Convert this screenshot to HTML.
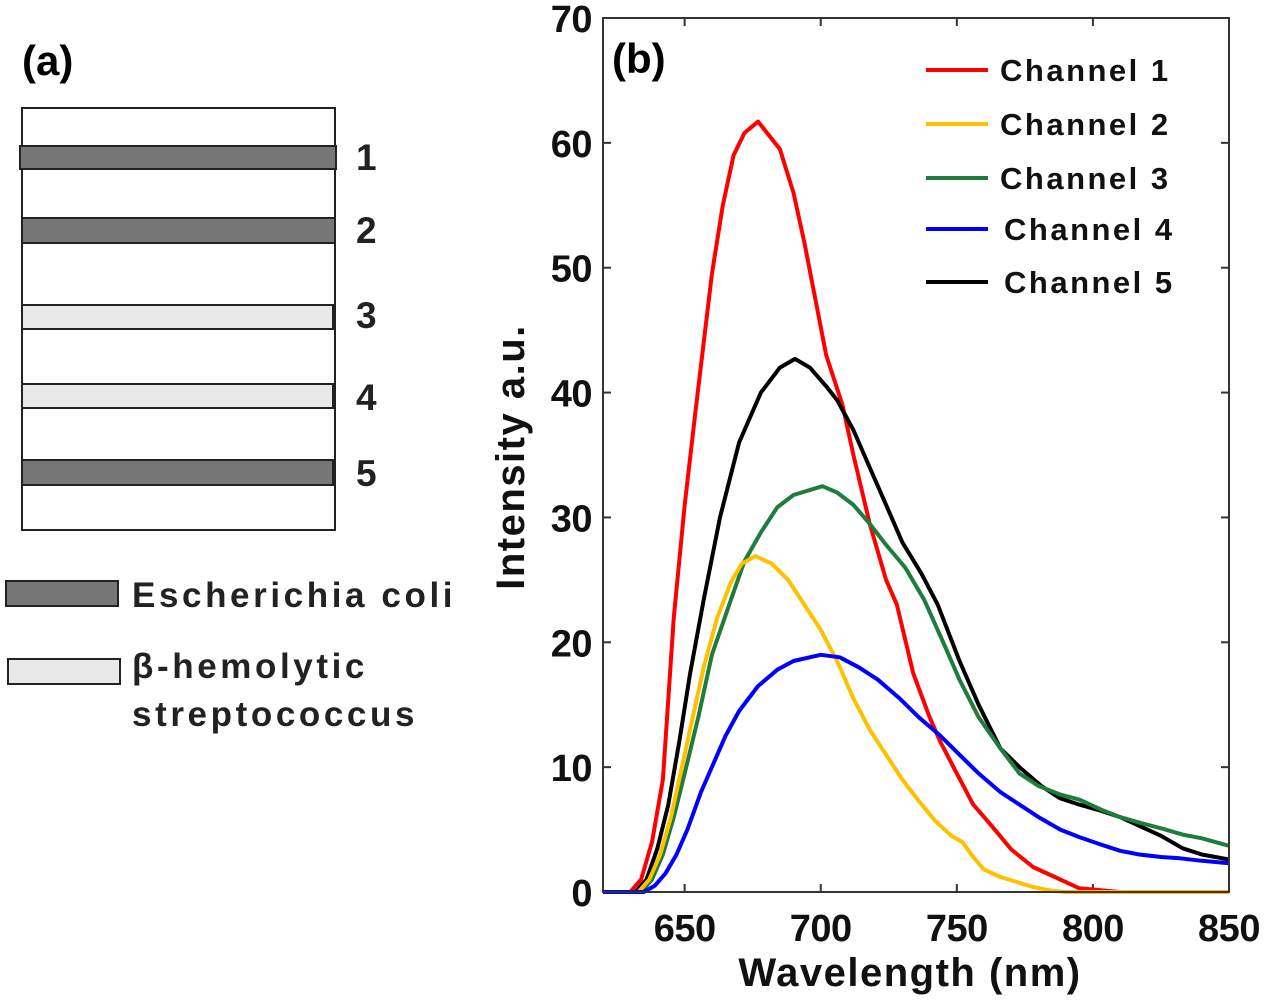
<!DOCTYPE html>
<html><head><meta charset="utf-8"><style>
html,body{margin:0;padding:0;background:#fff;}
svg{display:block;font-family:"Liberation Sans",Arial,sans-serif;}
</style></head><body>
<svg id="fig" width="1269" height="1000" viewBox="0 0 1269 1000">
  <g>
    <text x="22" y="75" font-size="42" font-weight="bold">(a)</text>
    <rect x="22" y="108" width="313" height="422" fill="#fff" stroke="#222" stroke-width="2"/>
    <rect x="20" y="146" width="316" height="23" fill="#777" stroke="#222" stroke-width="2"/>
    <rect x="22" y="218" width="313" height="25" fill="#777" stroke="#222" stroke-width="2"/>
    <rect x="22" y="305" width="311" height="24" fill="#e8e8e8" stroke="#222" stroke-width="2"/>
    <rect x="22" y="384" width="311" height="24" fill="#e8e8e8" stroke="#222" stroke-width="2"/>
    <rect x="22" y="460" width="311" height="25" fill="#777" stroke="#222" stroke-width="2"/>
    <g font-size="37" font-weight="bold" fill="#222">
      <text x="356" y="170">1</text>
      <text x="356" y="243">2</text>
      <text x="356" y="328">3</text>
      <text x="356" y="410">4</text>
      <text x="356" y="486">5</text>
    </g>
    <g font-size="35" font-weight="bold" fill="#222" letter-spacing="3.6">
      <rect x="6" y="581" width="112" height="25" fill="#777" stroke="#222" stroke-width="2"/>
      <text x="132" y="607">Escherichia coli</text>
      <rect x="8" y="659" width="112" height="25" fill="#e8e8e8" stroke="#222" stroke-width="2"/>
      <text x="132" y="678">β-hemolytic</text>
      <text x="132" y="726">streptococcus</text>
    </g>
  </g>
  <g id="chart"></g>
</svg>
<script>
const xTicks = [650, 700, 750, 800, 850];
const yTicks = [0, 10, 20, 30, 40, 50, 60, 70];
const seriesNames = ["Channel 1", "Channel 2", "Channel 3", "Channel 4", "Channel 5"];
const seriesColors = ["#ff0000", "#ffc000", "#1e7d3c", "#0000ff", "#000000"];
const ch1W = [620,630,634,638,642,646,650,654,657,660,664,668,672,677,681,685,690,694,698,702,708,712,718,724,728,734,740,744,750,756,762,770,778,786,795,810];
const ch1V = [0,0,1,4,9,22,31,38.5,44,49.5,55,59,60.8,61.7,60.6,59.5,56,52,47.5,43,39,35,29.5,25,23,17.5,14,12,9.5,7,5.5,3.4,2,1.2,0.3,0];
const ch2W = [620,633,637,641,645,649,653,657,662,667,671,676,682,688,694,700,706,712,718,724,730,736,742,748,752,756,760,766,772,778,785,790,850];
const ch2V = [0,0,1,3,6,10,14,18,22,24.8,26.3,26.9,26.3,25,23,21,18.5,15.5,13,11,9,7.3,5.7,4.5,4,2.8,1.8,1.2,0.8,0.4,0.1,0,0];
const ch3W = [620,634,638,642,646,650,655,660,667,672,678,684,690,700.6,706,712,718,724,731,738,745,751,758,766,773,780,788,795,803,810,818,825,833,840,850];
const ch3V = [0,0,1,3,6,9.5,14,19,23.4,26.5,28.8,30.8,31.8,32.5,32,31,29.5,27.8,26,23.4,20,17,14,11.5,9.5,8.5,7.8,7.4,6.6,6,5.5,5.1,4.6,4.3,3.7];
const ch4W = [620,635,639,643,647,651,656,660,665,670,677,684,690,700,707,714,721,729,736,744,751,758,766,773,780,788,795,803,810,817,825,832,840,850];
const ch4V = [0,0,0.5,1.5,3,5,8,10,12.5,14.5,16.5,17.8,18.5,19,18.8,18,17,15.5,14,12.5,11,9.5,8,7,6,5,4.4,3.8,3.3,3,2.8,2.7,2.5,2.3];
const ch5W = [620,632,636,640,644,648,652,657,663,670,678,685,690.5,696,702,706,712,718,724,730,737,743,751,758,766,773,781,788,795,803,810,818,825,833,840,850];
const ch5V = [0,0,1,3.5,7,12,17.5,23.4,30,36,40,42,42.7,42,40.5,39.4,37,34,31,28,25.5,23,18.5,15,11.5,10,8.5,7.5,7,6.5,6,5.2,4.5,3.5,3,2.6];

const NS = "http://www.w3.org/2000/svg";
const L = 603, R = 1229, T = 18, B = 892;
const X0 = 620, X1 = 850, Y0 = 0, Y1 = 70;
function xs(w){ return L + (w - X0) / (X1 - X0) * (R - L); }
function ys(v){ return B - (v - Y0) / (Y1 - Y0) * (B - T); }
const g = document.getElementById('chart');
function mk(tag, attrs){ const e = document.createElementNS(NS, tag); for (const k in attrs) e.setAttribute(k, attrs[k]); g.appendChild(e); return e; }

const lab = mk('text', {x: 612, y: 73, 'font-size': 42, 'font-weight': 'bold'});
lab.textContent = '(b)';



xTicks.forEach(t => {
  const x = xs(t);
  const a = mk('line', {x1: x, x2: x, y1: B, y2: B - 8, stroke: '#333', 'stroke-width': 2});
  
  
  const b = mk('line', {x1: x, x2: x, y1: T, y2: T + 8, stroke: '#333', 'stroke-width': 2});
  
  
  const tx = mk('text', {x: x, y: 941, 'text-anchor': 'middle', 'font-size': 38, 'font-weight': 'bold', 'letter-spacing': '-0.5', fill: '#111'});
  tx.textContent = t;
  
  
});
yTicks.forEach(t => {
  const y = ys(t);
  const a = mk('line', {x1: L, x2: L + 8, y1: y, y2: y, stroke: '#333', 'stroke-width': 2});
  
  
  const b = mk('line', {x1: R, x2: R - 8, y1: y, y2: y, stroke: '#333', 'stroke-width': 2});
  
  
  const tx = mk('text', {x: 592, y: y + 14, 'text-anchor': 'end', 'font-size': 38, 'font-weight': 'bold', 'letter-spacing': '-0.5', fill: '#111'});
  tx.textContent = t;
  
  
});

const allW = [ch1W, ch2W, ch3W, ch4W, ch5W];
const allV = [ch1V, ch2V, ch3V, ch4V, ch5V];
const order = [0, 4, 2, 1, 3];
order.forEach(i => {
  const d = allW[i].map((w, j) => (j ? 'L' : 'M') + xs(w).toFixed(1) + ',' + ys(allV[i][j]).toFixed(1)).join('');
  const p = mk('path', {d: d, fill: 'none', stroke: seriesColors[i], 'stroke-width': 4, 'stroke-linejoin': 'round'});
  
  
});

const frame = mk('rect', {x: L, y: T, width: R - L, height: B - T, fill: 'none', stroke: '#333', 'stroke-width': 2});



const legY = [70, 124, 178, 229, 282];
seriesNames.forEach((n, i) => {
  const ln = mk('line', {x1: 926, x2: 988, y1: legY[i], y2: legY[i], stroke: seriesColors[i], 'stroke-width': 4});
  
  
  const tx = mk('text', {x: 1000 + (i === 3 || i === 4 ? 4 : 0), y: legY[i] + 11, 'font-size': 31, 'font-weight': 'bold', 'letter-spacing': '2.5', fill: '#111'});
  tx.textContent = n;
  
  
});

const xt = mk('text', {x: 910, y: 986, 'text-anchor': 'middle', 'font-size': 40, 'font-weight': 'bold', 'letter-spacing': '1.5', fill: '#111'});
xt.textContent = 'Wavelength (nm)';


const yt = mk('text', {x: 0, y: 0, 'text-anchor': 'middle', 'font-size': 40, 'font-weight': 'bold', 'letter-spacing': '1.5', fill: '#111', transform: 'translate(524,457) rotate(-90)'});
yt.textContent = 'Intensity a.u.';


</script>
</body></html>
